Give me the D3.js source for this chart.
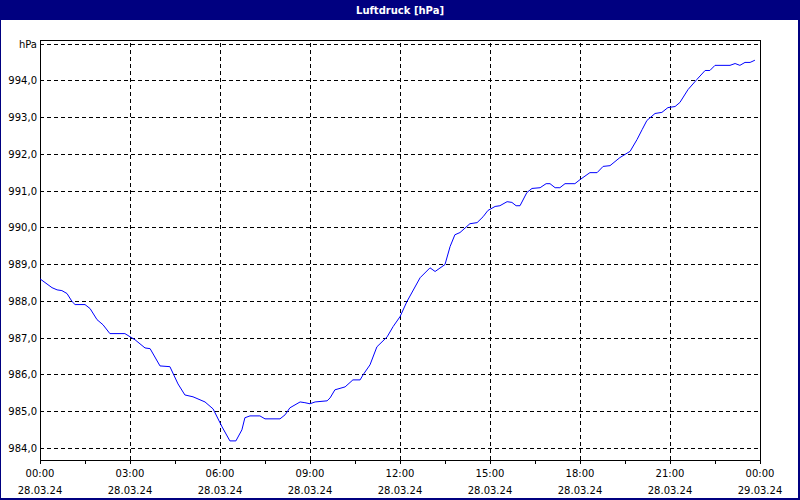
<!DOCTYPE html>
<html>
<head>
<meta charset="utf-8">
<script src="https://cdn.jsdelivr.net/npm/d3@7"></script>
<style>
body { margin: 0; background: #fff; }
text { font-family: "DejaVu Sans", sans-serif; font-size: 10px; fill: #000; }
</style>
</head>
<body>
<svg id="chart"></svg>
<script>
var title_text = "Luftdruck [hPa]";

// hours since 28.03.24 00:00
var hours = [0.00,0.40,0.57,0.73,0.90,1.07,1.17,1.50,1.67,1.90,2.10,2.33,2.83,3.17,3.50,3.67,4.00,4.33,4.60,4.83,
    5.10,5.50,5.77,6.07,6.33,6.53,6.73,6.83,7.00,7.33,7.50,8.00,8.17,8.33,8.67,8.83,9.00,9.17,9.57,9.67,
    9.83,10.17,10.43,10.67,10.77,11.00,11.23,11.57,11.77,12.00,12.23,12.67,13.00,13.17,13.50,13.67,13.83,14.00,14.33,14.57,
    14.77,14.93,15.17,15.33,15.57,15.73,15.87,16.00,16.23,16.40,16.67,16.87,17.00,17.17,17.33,17.50,17.83,18.00,18.33,18.57,
    18.77,19.00,19.33,19.67,19.90,20.07,20.23,20.50,20.73,20.93,21.17,21.33,21.60,21.90,22.17,22.33,22.50,23.00,23.17,23.33,
    23.50,23.67,23.83];
var pressure = [988.60,988.36,988.30,988.28,988.20,987.98,987.90,987.90,987.79,987.49,987.35,987.11,987.11,986.94,986.72,986.70,986.23,986.21,985.74,985.44,
    985.39,985.25,985.06,984.57,984.19,984.19,984.49,984.82,984.87,984.87,984.79,984.79,984.90,985.09,985.25,985.23,985.20,985.25,985.28,985.36,
    985.58,985.66,985.85,985.85,985.99,986.26,986.75,987.02,987.30,987.57,987.98,988.63,988.90,988.80,988.99,989.48,989.80,989.86,990.10,990.13,
    990.29,990.46,990.57,990.59,990.70,990.68,990.59,990.59,990.95,991.06,991.08,991.19,991.19,991.08,991.08,991.19,991.19,991.30,991.49,991.49,
    991.66,991.68,991.90,992.07,992.39,992.66,992.91,993.10,993.13,993.26,993.29,993.40,993.75,994.03,994.27,994.27,994.41,994.41,994.46,994.41,
    994.49,994.49,994.55];

var y_ticks = [984, 985, 986, 987, 988, 989, 990, 991, 992, 993, 994];
var x_ticks = [0, 3, 6, 9, 12, 15, 18, 21, 24];
var x_time_labels = ["00:00","03:00","06:00","09:00","12:00","15:00","18:00","21:00","00:00"];
var x_date_labels = ["28.03.24","28.03.24","28.03.24","28.03.24","28.03.24","28.03.24","28.03.24","28.03.24","29.03.24"];

var width = 800, height = 500;
var margin = {"top": 40, "right": 40, "bottom": 40, "left": 40};

var svg = d3.select("svg#chart")
    .attr("width", width)
    .attr("height", height);

// frame + title bar
svg.append("rect").attr("x", 0).attr("y", 0).attr("width", width).attr("height", height).attr("fill", "#000080");
svg.append("rect").attr("x", 1).attr("y", 20).attr("width", width - 3).attr("height", height - 22).attr("fill", "#fff");
svg.append("text")
    .attr("x", width / 2).attr("y", 14)
    .attr("text-anchor", "middle")
    .style("fill", "#fff").style("font-weight", "bold")
    .text(title_text);

var x = d3.scaleLinear().domain([0, 24]).range([margin.left, width - margin.right]);
var y = d3.scaleLinear().domain([983.67, 995.1]).range([height - margin.bottom, margin.top]);

var g = svg.append("g").attr("shape-rendering", "crispEdges");

// grid
g.selectAll(".hgrid").data(y_ticks.concat([995]))
    .enter().append("line")
    .attr("x1", x(0)).attr("x2", x(24))
    .attr("y1", function(d){ return Math.round(y(d)) + 0.5; })
    .attr("y2", function(d){ return Math.round(y(d)) + 0.5; })
    .attr("stroke", "#000").attr("stroke-dasharray", "4,3");

g.selectAll(".vgrid").data(x_ticks.slice(1, -1))
    .enter().append("line")
    .attr("y1", y.range()[0]).attr("y2", y.range()[1])
    .attr("x1", function(d){ return Math.round(x(d)) + 0.5; })
    .attr("x2", function(d){ return Math.round(x(d)) + 0.5; })
    .attr("stroke", "#000").attr("stroke-dasharray", "4,3");

// box
g.append("rect")
    .attr("x", x(0) + 0.5).attr("y", y.range()[1] + 0.5)
    .attr("width", x(24) - x(0)).attr("height", y.range()[0] - y.range()[1])
    .attr("fill", "none").attr("stroke", "#000");

// minor ticks on x axis
g.selectAll(".xtick").data(d3.range(0, 24.1, 1.5))
    .enter().append("line")
    .attr("x1", function(d){ return Math.round(x(d)) + 0.5; })
    .attr("x2", function(d){ return Math.round(x(d)) + 0.5; })
    .attr("y1", y.range()[0]).attr("y2", y.range()[0] + 4)
    .attr("stroke", "#000");

// y labels
svg.selectAll(".ylab").data(y_ticks)
    .enter().append("text")
    .attr("x", x(0) - 3).attr("y", function(d){ return y(d) + 4; })
    .attr("text-anchor", "end")
    .text(function(d){ return d.toFixed(1).replace(".", ","); });
svg.append("text")
    .attr("x", x(0) - 3).attr("y", y(995) + 4)
    .attr("text-anchor", "end")
    .text("hPa");

// x labels
svg.selectAll(".xlab").data(x_ticks)
    .enter().append("text")
    .attr("x", function(d){ return x(d); }).attr("y", 477)
    .attr("text-anchor", "middle")
    .text(function(d, i){ return x_time_labels[i]; });
svg.selectAll(".xdate").data(x_ticks)
    .enter().append("text")
    .attr("x", function(d){ return x(d); }).attr("y", 494)
    .attr("text-anchor", "middle")
    .text(function(d, i){ return x_date_labels[i]; });

// line
var line = d3.line()
    .x(function(d, i){ return x(hours[i]); })
    .y(function(d){ return y(d); });

svg.append("path")
    .datum(pressure)
    .attr("d", line)
    .attr("fill", "none")
    .attr("stroke", "#0000ff")
    .attr("stroke-width", 1);
</script>
</body>
</html>
